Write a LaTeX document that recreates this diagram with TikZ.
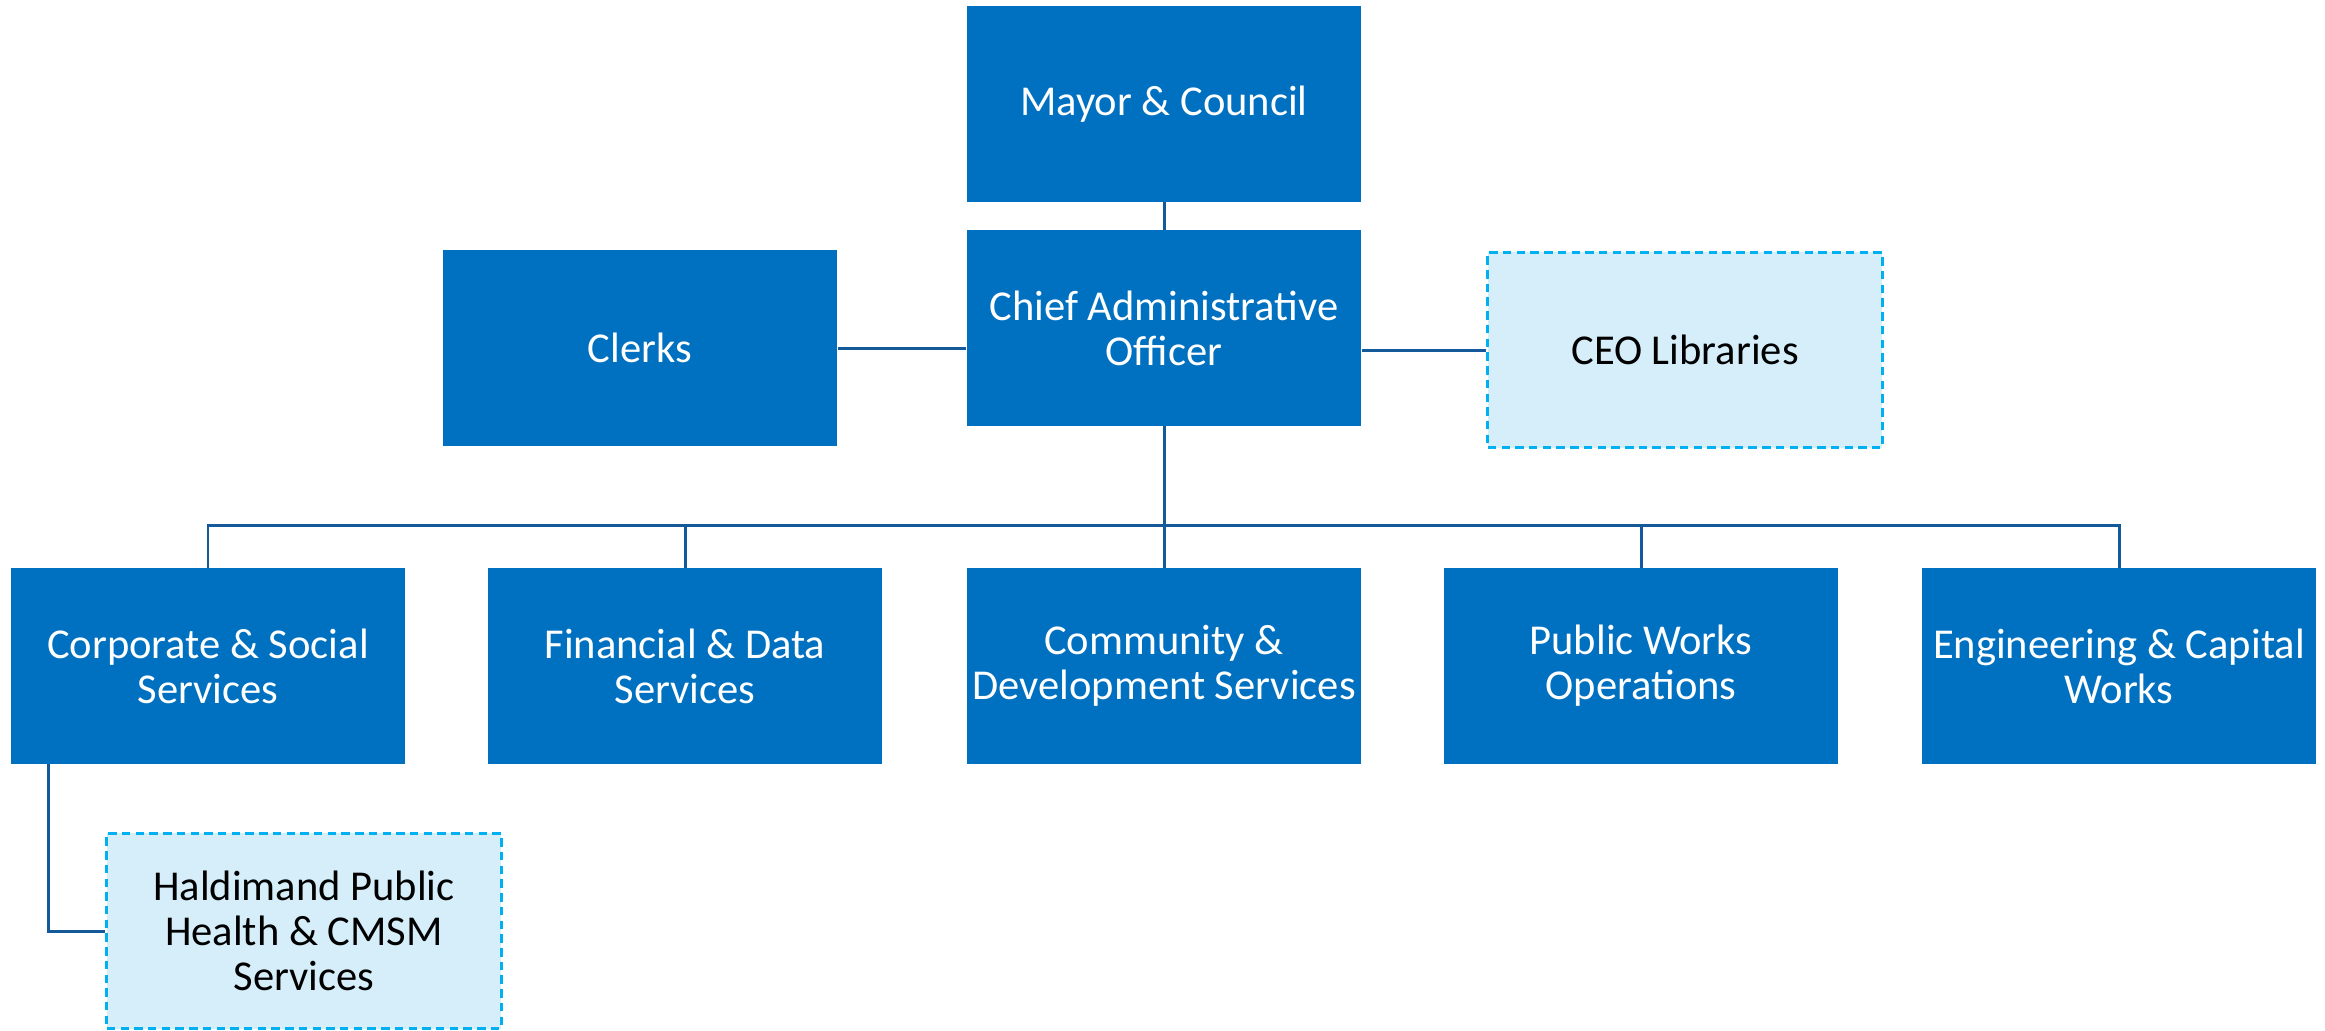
\documentclass[tikz,border=0pt]{standalone}
\usepackage{fontspec}
\setmainfont{Carlito}
\usetikzlibrary{positioning}

\definecolor{org_blue}{RGB}{0,112,192}
\definecolor{org_line}{RGB}{20,90,155}
\definecolor{org_light}{RGB}{213,238,249}
\definecolor{org_dash}{RGB}{0,176,240}

\tikzset{
  unitbox/.style={rectangle, fill=org_blue, text=white, align=center,
    minimum width=3.94cm, minimum height=1.95cm, inner sep=0pt,
    font=\fontsize{12.1}{12.8}\selectfont},
  partnerbox/.style={unitbox, fill=org_light, text=black, draw=org_dash,
    line width=0.85pt, dash pattern=on 2.4pt off 1.5pt},
  conn/.style={draw=org_line, line width=0.85pt}
}

\begin{document}
\begin{tikzpicture}[x=0.01cm, y=-0.01cm]
    \useasboundingbox (0,0) rectangle (2325,1030);

    \node[unitbox] (mayor) at (1164,104) {Mayor \& Council};
    \node[unitbox] (cao) at (1164,328) {Chief Administrative\\Officer};
    \node[unitbox] (clerks) at (640,348) {Clerks};
    \node[partnerbox] (ceo) at (1685,350) {CEO Libraries};

    \node[unitbox] (corp) at (208,666) {Corporate \& Social\\Services};
    \node[unitbox] (fin) at (685,666) {Financial \& Data\\Services};
    \node[unitbox] (comm) at (1164,666) {Community \&\\Development Services};
    \node[unitbox] (pub) at (1641,666) {Public Works\\Operations};
    \node[unitbox] (eng) at (2119,666) {Engineering \& Capital\\Works};

    \node[partnerbox] (hald) at (304,931)
      {Haldimand Public\\Health \& CMSM\\Services};

    \coordinate (bus) at (1164,525);

    \draw[conn] (mayor.south) -- (cao.north);
    \draw[conn] (clerks.east) -- (clerks.east -| cao.west);
    \draw[conn] (cao.east |- ceo.west) -- (ceo.west);

    \draw[conn] (cao.south) -- (comm.north);
    \draw[conn] (corp.north) |- (bus) -| (eng.north);
    \foreach \unit in {fin,pub}
      \draw[conn] (\unit.north) -- (\unit.north |- bus);

    \draw[conn] ([xshift=0.38cm]corp.south west) |- (hald.west);
\end{tikzpicture}
\end{document}
